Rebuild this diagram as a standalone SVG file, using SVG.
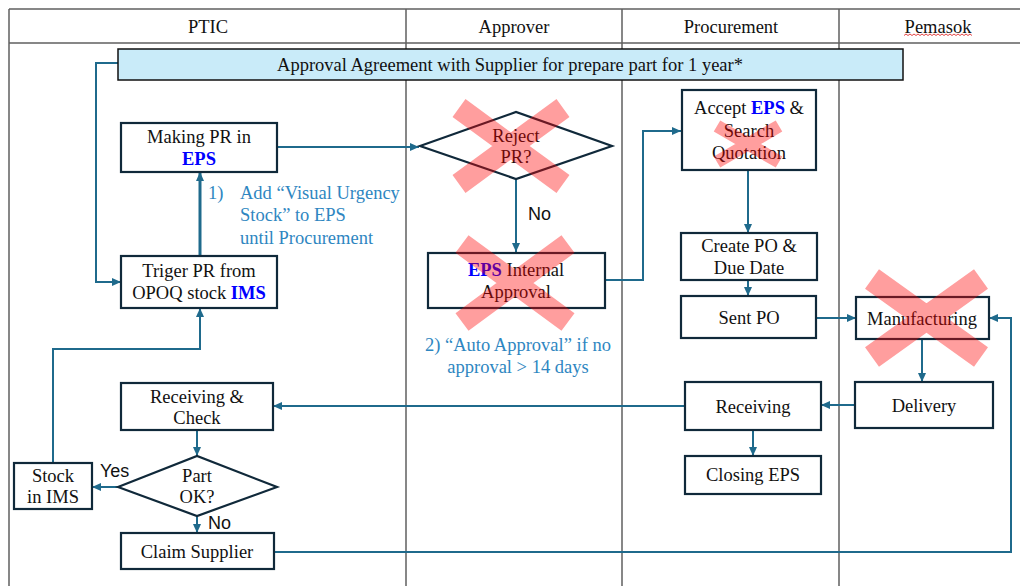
<svg xmlns="http://www.w3.org/2000/svg" width="1020" height="586" viewBox="0 0 1020 586">
<style>
.grid{stroke:#5f5f5f;stroke-width:1.5;fill:none}
.hd{font-family:"Liberation Serif","Times New Roman",serif;font-size:18.5px;fill:#111;text-anchor:middle}
.box{fill:#fff;stroke:#10293a;stroke-width:2.2}
.t{font-family:"Liberation Serif","Times New Roman",serif;font-size:18.5px;fill:#111;text-anchor:middle}
.eps{font-weight:bold;fill:#0000ff}
.note{font-family:"Liberation Serif","Times New Roman",serif;font-size:18.5px;fill:#2e86c1}
.lbl{font-family:"Liberation Sans",Arial,sans-serif;font-size:18px;fill:#111}
.c{fill:none;stroke:#1f6a8c;stroke-width:2;marker-end:url(#ah)}
.cn{fill:none;stroke:#1f6a8c;stroke-width:2}
.x{stroke:#ff0000;stroke-opacity:0.38;fill:none;stroke-linecap:butt}
</style>
<defs>
<marker id="ah" markerUnits="userSpaceOnUse" markerWidth="9" markerHeight="8" refX="9" refY="4" orient="auto">
<path d="M0,0 L9,4 L0,8 z" fill="#1f6a8c"/>
</marker>
</defs>
<rect width="1020" height="586" fill="#fff"/>
<g id="table">
<line class="grid" x1="9" y1="9" x2="1020" y2="9"/>
<line class="grid" x1="9" y1="43" x2="1020" y2="43"/>
<line class="grid" x1="9" y1="9" x2="9" y2="586"/>
<line class="grid" x1="406" y1="9" x2="406" y2="586"/>
<line class="grid" x1="622" y1="9" x2="622" y2="586"/>
<line class="grid" x1="839" y1="9" x2="839" y2="586"/>
<text class="hd" x="208" y="33">PTIC</text>
<text class="hd" x="514" y="33">Approver</text>
<text class="hd" x="731" y="33">Procurement</text>
<text class="hd" x="938" y="33">Pemasok</text>
<path d="M904,35.5 l2,-1.5 l2,1.5 l2,-1.5 l2,1.5 l2,-1.5 l2,1.5 l2,-1.5 l2,1.5 l2,-1.5 l2,1.5 l2,-1.5 l2,1.5 l2,-1.5 l2,1.5 l2,-1.5 l2,1.5 l2,-1.5 l2,1.5 l2,-1.5 l2,1.5 l2,-1.5 l2,1.5 l2,-1.5 l2,1.5 l2,-1.5 l2,1.5 l2,-1.5 l2,1.5 l2,-1.5 l2,1.5 l2,-1.5 l2,1.5 l2,-1.5 l2,1.5" fill="none" stroke="#e03030" stroke-width="0.9"/>
</g>
<g id="connectors">
<path class="c" d="M118,63 H96 V282 H121"/>
<path class="c" d="M200,256 V172" style="stroke-width:3"/>
<path class="c" d="M277,147 H419"/>
<path class="c" d="M516,179 V252"/>
<path class="c" d="M605,280 H643 V131 H681"/>
<path class="c" d="M748,170 V233"/>
<path class="c" d="M748,280 V296"/>
<path class="c" d="M816,318 H856"/>
<path class="c" d="M922,339 V382"/>
<path class="c" d="M855,405 H821"/>
<path class="c" d="M753,430 V456"/>
<path class="c" d="M685,406 H273"/>
<path class="c" d="M197,430 V456"/>
<path class="c" d="M118,487 H92"/>
<path class="c" d="M197,516 V533"/>
<path class="c" d="M274,552 H1011 V318 H989"/>
<path class="c" d="M53,463 V349 H200 V308"/>
<text class="lbl" x="528" y="220">No</text>
<text class="lbl" x="100" y="477">Yes</text>
<text class="lbl" x="208" y="529">No</text>
</g>
<g id="banner">
<rect x="118" y="49" width="785" height="31" fill="#c9ebf9" stroke="#111" stroke-width="1.5"/>
<text class="t" x="510" y="71">Approval Agreement with Supplier for prepare part for 1 year*</text>
</g>
<g id="making-pr">
<rect class="box" x="121" y="123" width="156" height="49"/>
<text class="t" x="199" y="143">Making PR in</text>
<text class="t eps" x="199" y="165">EPS</text>
</g>
<g id="triger-pr">
<rect class="box" x="121" y="256" width="156" height="52"/>
<text class="t" x="199" y="277">Triger PR from</text>
<text class="t" x="199" y="299">OPOQ stock <tspan class="eps">IMS</tspan></text>
</g>
<g id="note1">
<text class="note" x="208" y="199">1)</text>
<text class="note" x="240" y="199">Add “Visual Urgency</text>
<text class="note" x="240" y="221">Stock” to EPS</text>
<text class="note" x="240" y="244">until Procurement</text>
</g>
<g id="reject-pr">
<polygon points="420,146 516,112 612,146 516,179" fill="#fff" stroke="#10293a" stroke-width="2.2"/>
<text class="t" x="516" y="142">Reject</text>
<text class="t" x="516" y="163">PR?</text>
<path class="x" d="M459,108 L563,184 M563,108 L459,184" stroke-width="22"/>
</g>
<g id="eps-internal">
<rect class="box" x="428" y="253" width="177" height="55"/>
<text class="t" x="516" y="276"><tspan class="eps">EPS</tspan> Internal</text>
<text class="t" x="516" y="298">Approval</text>
<path class="x" d="M462,244 L568,322 M568,244 L462,322" stroke-width="22"/>
</g>
<g id="note2">
<text class="note" x="518" y="351" text-anchor="middle">2) “Auto Approval” if no</text>
<text class="note" x="518" y="373" text-anchor="middle">approval &gt; 14 days</text>
</g>
<g id="accept-eps">
<rect class="box" x="682" y="90" width="134" height="80"/>
<text class="t" x="749" y="114">Accept <tspan class="eps">EPS</tspan> &amp;</text>
<text class="t" x="749" y="137">Search</text>
<text class="t" x="749" y="159">Quotation</text>
<path class="x" d="M717,126 L779,162 M779,126 L717,162" stroke-width="13"/>
</g>
<g id="create-po">
<rect class="box" x="681" y="233" width="136" height="47"/>
<text class="t" x="749" y="252">Create PO &amp;</text>
<text class="t" x="749" y="274">Due Date</text>
</g>
<g id="sent-po">
<rect class="box" x="681" y="296" width="135" height="42"/>
<text class="t" x="749" y="324">Sent PO</text>
</g>
<g id="manufacturing">
<rect class="box" x="856" y="297" width="133" height="42"/>
<text class="t" x="922" y="325">Manufacturing</text>
<path class="x" d="M872,279 L981,357 M981,279 L872,357" stroke-width="24"/>
</g>
<g id="delivery">
<rect class="box" x="855" y="382" width="138" height="46"/>
<text class="t" x="924" y="412">Delivery</text>
</g>
<g id="receiving">
<rect class="box" x="685" y="382" width="136" height="48"/>
<text class="t" x="753" y="413">Receiving</text>
</g>
<g id="closing-eps">
<rect class="box" x="685" y="456" width="136" height="38"/>
<text class="t" x="753" y="481">Closing EPS</text>
</g>
<g id="receiving-check">
<rect class="box" x="121" y="383" width="152" height="47"/>
<text class="t" x="197" y="403">Receiving &amp;</text>
<text class="t" x="197" y="424">Check</text>
</g>
<g id="part-ok">
<polygon points="118,487 197,456 277,487 197,516" fill="#fff" stroke="#10293a" stroke-width="2.2"/>
<text class="t" x="197" y="482">Part</text>
<text class="t" x="197" y="503">OK?</text>
</g>
<g id="stock-ims">
<rect class="box" x="14" y="463" width="78" height="46"/>
<text class="t" x="53" y="482">Stock</text>
<text class="t" x="53" y="503">in IMS</text>
</g>
<g id="claim-supplier">
<rect class="box" x="121" y="533" width="153" height="36"/>
<text class="t" x="197" y="558">Claim Supplier</text>
</g>
</svg>
